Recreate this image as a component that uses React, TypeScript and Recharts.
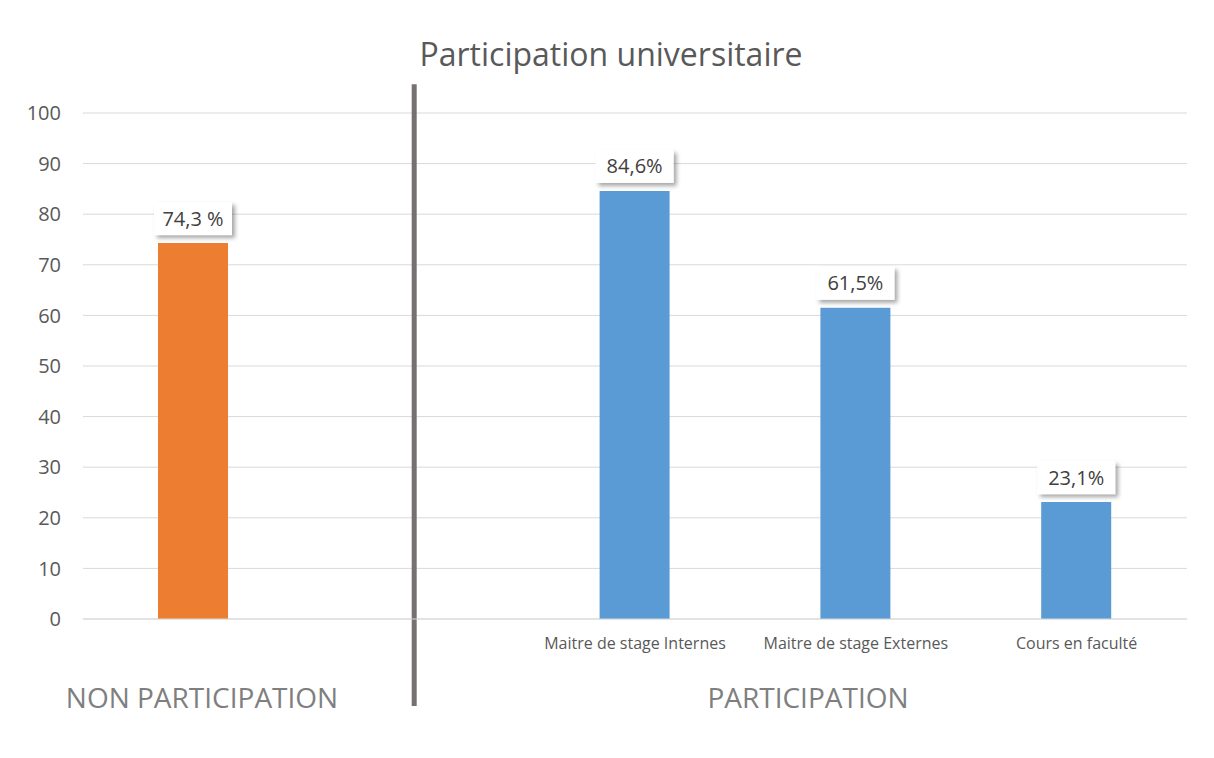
import React from "react";
import {
  BarChart,
  Bar,
  XAxis,
  YAxis,
  CartesianGrid,
  Cell,
  LabelList,
  ReferenceLine,
} from "recharts";

const categoryIds = ["np", "sep", "internes", "externes", "faculte"];
const categoryLabels = [
  "",
  "",
  "Maitre de stage Internes",
  "Maitre de stage Externes",
  "Cours en faculté",
];
const values = [74.3, null, 84.6, 61.5, 23.1];
const valueLabels = ["74,3 %", "", "84,6%", "61,5%", "23,1%"];
const barColors = ["#ED7D31", "#5B9BD5", "#5B9BD5", "#5B9BD5", "#5B9BD5"];
const yTicks = [0, 10, 20, 30, 40, 50, 60, 70, 80, 90, 100];

const data = categoryIds.map((id, i) => ({
  id,
  label: categoryLabels[i],
  value: values[i],
  text: valueLabels[i],
}));

const FONT = "'Open Sans', 'Noto Sans', sans-serif";

function ValueLabel(props: any) {
  const { x, y, width, value } = props;
  if (!value) return null;
  const w = 78;
  const h = 33;
  const cx = x + width / 2;
  const top = y - h - 8;
  return (
    <g>
      <rect
        x={cx - w / 2}
        y={top}
        width={w}
        height={h}
        fill="#fff"
        filter="url(#lblShadow)"
      />
      <text
        x={cx}
        y={top + h / 2 + 7}
        textAnchor="middle"
        fontSize={20}
        fill="#404040"
        fontFamily={FONT}
      >
        {value}
      </text>
    </g>
  );
}

export default function App() {
  return (
    <div
      style={{
        position: "relative",
        width: 1230,
        height: 770,
        marginLeft: -1,
        marginTop: -1,
        border: "1px solid #cfcfcf",
        fontFamily: FONT,
        background: "#fff",
      }}
    >
      <div
        style={{
          position: "absolute",
          left: 0,
          width: 1206,
          top: 24,
          textAlign: "center",
          fontSize: 32,
          color: "#595959",
        }}
      >
        Participation universitaire
      </div>
      <BarChart
        width={1206}
        height={750}
        data={data}
        margin={{ top: 105, right: 27, bottom: 109, left: 15 }}
        style={{ position: "absolute", left: 0, top: 0 }}
      >
        <defs>
          <filter id="lblShadow" x="-20%" y="-30%" width="150%" height="170%">
            <feDropShadow
              dx={3}
              dy={3}
              stdDeviation={2}
              floodColor="#000"
              floodOpacity={0.35}
            />
          </filter>
        </defs>
        <CartesianGrid vertical={false} stroke="#d9d9d9" />
        <XAxis
          dataKey="id"
          tickFormatter={(v: string) =>
            categoryLabels[categoryIds.indexOf(v)] ?? ""
          }
          interval={0}
          axisLine={{ stroke: "#d9d9d9" }}
          tickLine={false}
          tickSize={0}
          tickMargin={19}
          height={30}
          tick={{ fontSize: 16, fill: "#595959", fontFamily: FONT }}
        />
        <YAxis
          domain={[0, 100]}
          ticks={yTicks}
          interval={0}
          axisLine={false}
          tickLine={false}
          tickSize={0}
          tickMargin={22}
          width={60}
          tick={{ fontSize: 20, fill: "#595959", fontFamily: FONT }}
        />
        <ReferenceLine
          segment={[
            { x: "sep", y: 105.7 },
            { x: "sep", y: -17.2 },
          ]}
          ifOverflow="visible"
          stroke="#767171"
          strokeWidth={5}
        />
        <Bar dataKey="value" barSize={70} isAnimationActive={false}>
          {data.map((d, i) => (
            <Cell key={d.id} fill={barColors[i]} />
          ))}
          <LabelList dataKey="text" content={<ValueLabel />} />
        </Bar>
      </BarChart>
      <div
        style={{
          position: "absolute",
          left: 44,
          width: 300,
          top: 670,
          textAlign: "center",
          fontSize: 28,
          color: "#7f7f7f",
        }}
      >
        NON PARTICIPATION
      </div>
      <div
        style={{
          position: "absolute",
          left: 650,
          width: 300,
          top: 670,
          textAlign: "center",
          fontSize: 28,
          color: "#7f7f7f",
        }}
      >
        PARTICIPATION
      </div>
    </div>
  );
}
